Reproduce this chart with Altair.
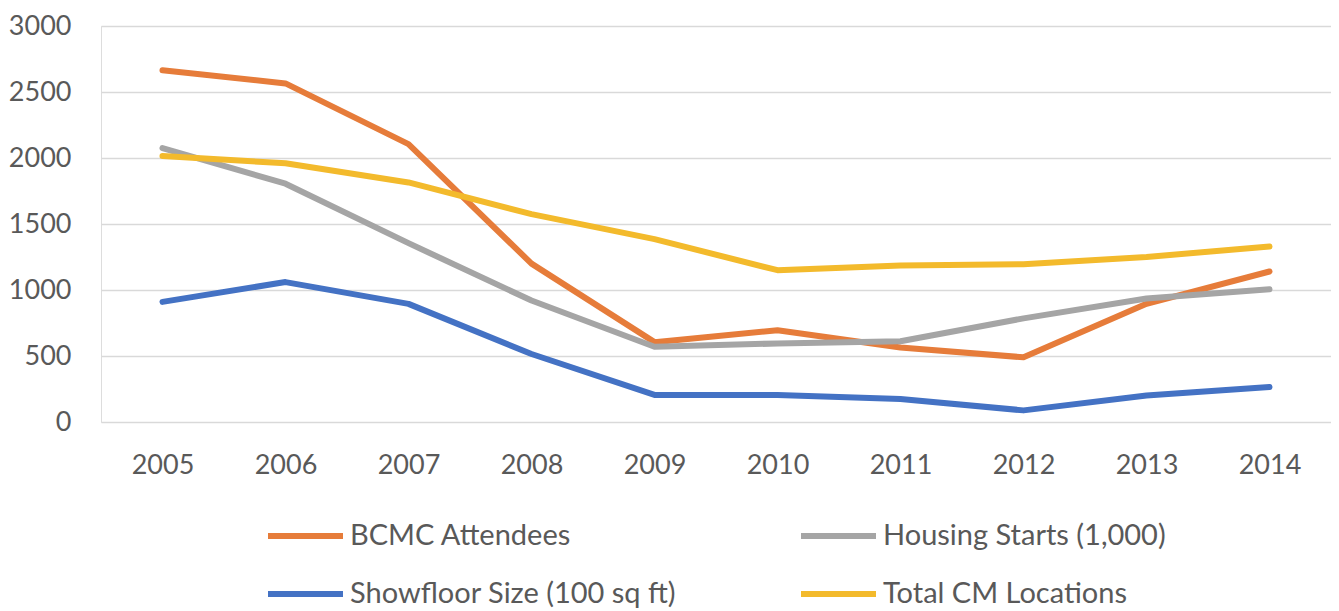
import altair as alt
import pandas as pd

years = ["2005", "2006", "2007", "2008", "2009", "2010", "2011", "2012", "2013", "2014"]
series_names = ["BCMC Attendees", "Housing Starts (1,000)", "Showfloor Size (100 sq ft)", "Total CM Locations"]
bcmc = [2665, 2565, 2105, 1200, 605, 695, 565, 490, 895, 1140]
housing = [2075, 1805, 1355, 920, 570, 595, 612, 785, 935, 1005]
showfloor = [910, 1060, 895, 515, 205, 205, 175, 88, 200, 265]
total_cm = [2015, 1960, 1815, 1575, 1385, 1150, 1185, 1195, 1250, 1330]
colors = ["#E67C3A", "#A5A5A5", "#4472C4", "#F3BA2C"]

rows = []
for name, vals in zip(series_names, [bcmc, housing, showfloor, total_cm]):
    for yr, v in zip(years, vals):
        rows.append({"year": yr, "value": v, "series": name, "s": series_names.index(name)})
df = pd.DataFrame(rows)

FONT = "Lato"
GRAY = "#595959"

chart = alt.Chart(df).mark_line(strokeWidth=6, strokeCap="round", strokeJoin="round").encode(
    x=alt.X("year:O", sort=years, title=None,
            scale=alt.Scale(type="point", padding=0.5),
            axis=alt.Axis(labelAngle=0, domain=False, ticks=False, tickSize=0, grid=False,
                          labelFont=FONT, labelFontSize=27, labelColor=GRAY, labelPadding=30)),
    y=alt.Y("value:Q", title=None,
            scale=alt.Scale(domain=[0, 3000], nice=False),
            axis=alt.Axis(values=[0, 500, 1000, 1500, 2000, 2500, 3000], format="d",
                          domain=False, ticks=False, tickSize=0,
                          gridColor="#D9D9D9", gridWidth=1.5,
                          labelFont=FONT, labelFontSize=27, labelColor=GRAY, labelPadding=30)),
    color=alt.Color("series:N", sort=series_names,
                    scale=alt.Scale(domain=series_names, range=colors),
                    legend=alt.Legend(title=None, orient="none", direction="horizontal",
                                      legendX=164, legendY=495,
                                      columns=2, columnPadding=121, rowPadding=28, clipHeight=30,
                                      symbolType="stroke", symbolSize=5625, symbolStrokeWidth=6,
                                      labelFont=FONT, labelFontSize=29, labelColor=GRAY,
                                      labelOffset=4, padding=0, labelLimit=600)),
    order=alt.Order("s:Q"),
).properties(
    width=1230, height=396,
    padding={"left": 0, "top": 4, "right": 0, "bottom": 0},
).configure_view(stroke=None).configure(background="white")

chart.save("out.html", embed_options={"renderer": "svg", "actions": False})
